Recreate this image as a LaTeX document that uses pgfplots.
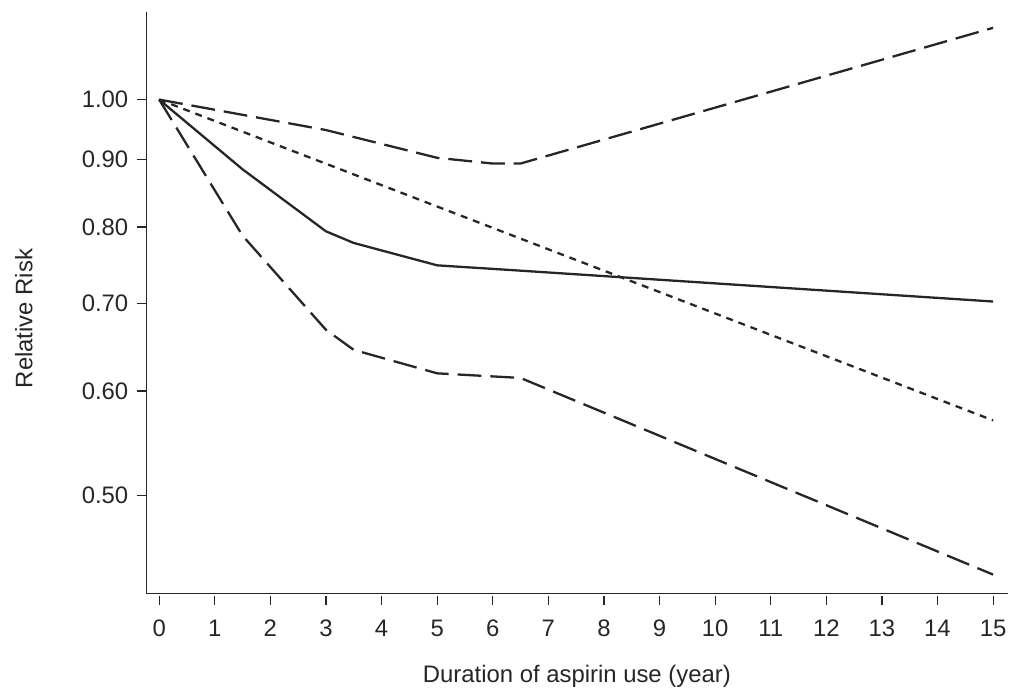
\documentclass[border=0pt]{standalone}
\usepackage{fontspec}
\setmainfont{Liberation Sans}
\usepackage{pgfplots}
\pgfplotsset{compat=1.18}

\definecolor{ink}{HTML}{262626}

\begin{document}
\begin{tikzpicture}
\begin{axis}[
    name=ax,
    scale only axis,
    width=433pt,
    height=292.5pt,
    ymode=log,
    xmin=-0.233, xmax=15.26,
    ymin=0.4206, ymax=1.166,
    axis lines*=left,
    axis line style={ink, line width=0.7pt},
    tick align=outside,
    major tick length=4.5pt,
    tick style={ink, line width=0.6pt},
    xtick={0,1,...,15},
    ytick={0.5,0.6,0.7,0.8,0.9,1.0},
    yticklabels={0.50,0.60,0.70,0.80,0.90,1.00},
    minor ytick={},
    x tick style={yshift=-1pt},
    xticklabel style={yshift=-5pt},
    yticklabel style={xshift=-1pt},
    /pgf/number format/assume math mode=true,
    tick label style={font=\fontsize{12}{14}\selectfont, text=ink},
    xlabel={Duration of aspirin use (year)},
    ylabel={Relative Risk},
    every axis x label/.style={at={(axis description cs:0.5,-0.142)}, anchor=center,
        font=\fontsize{12}{14}\selectfont, text=ink},
    every axis y label/.style={at={(axis description cs:-0.142,0.473)}, rotate=90, anchor=center,
        font=\fontsize{12}{14}\selectfont, text=ink},
]
% solid
\addplot[ink, line width=1.15pt, line join=round] coordinates {
    (0,1.000) (1.5,0.885) (3,0.794) (3.5,0.778) (5,0.748) (6.5,0.741) (15,0.702)
};
% short dashed
\addplot[ink, line width=1.15pt, dash pattern=on 3.5pt off 3pt] coordinates {
    (0,1.000) (15,0.570)
};
% upper long dashed
\addplot[ink, line width=1.15pt, line join=round, dash pattern=on 12pt off 4.5pt] coordinates {
    (0,1.000) (3,0.948) (5,0.903) (6,0.894) (6.5,0.894) (15,1.134)
};
% lower long dashed
\addplot[ink, line width=1.15pt, line join=round, dash pattern=on 12pt off 4.5pt] coordinates {
    (0,1.000) (1.5,0.788) (3,0.668) (3.5,0.645) (5,0.619) (6.5,0.614) (15,0.435)
};
\end{axis}
\path (ax.south west) ++(-73.5pt,-48.5pt);
\path (ax.north east) ++(0,6pt);
\end{tikzpicture}
\end{document}
